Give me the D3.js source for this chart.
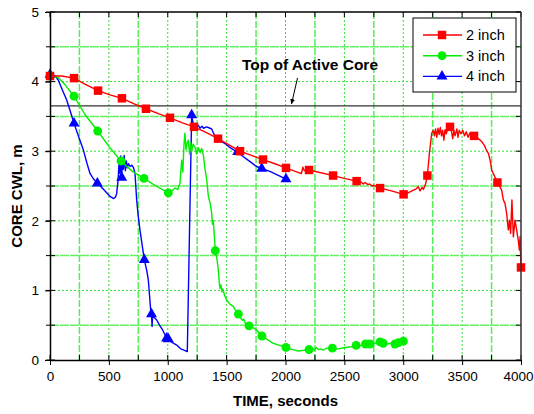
<!DOCTYPE html>
<html>
<head>
<meta charset="utf-8">
<script src="https://cdn.jsdelivr.net/npm/d3@7"></script>
<style>
  body { margin: 0; background: #fff; }
  svg { font-family: Arial, "Liberation Sans", sans-serif; }
</style>
</head>
<body>
<div id="chart"></div>
<script>
// 2 inch break (red)
const red2 = [[0,4.08],[100,4.08],[204,4.05],[300,3.96],[408,3.87],[510,3.81],[611,3.76],[715,3.68],[815,3.61],[920,3.54],[1019,3.48],[1120,3.41],[1223,3.35],[1325,3.27],[1427,3.18],[1520,3.09],[1614,3.00],[1710,2.94],[1809,2.88],[1910,2.82],[2004,2.76],[2100,2.70],[2135,2.68],[2148,2.77],[2160,2.72],[2200,2.73],[2300,2.69],[2404,2.65],[2500,2.61],[2604,2.57],[2640,2.56],[2660,2.53],[2675,2.55],[2700,2.52],[2715,2.53],[2735,2.50],[2750,2.51],[2803,2.47],[2900,2.43],[3003,2.38],[3040,2.40],[3086,2.44],[3110,2.46],[3128,2.49],[3143,2.43],[3160,2.48],[3171,2.45],[3188,2.52],[3205,2.65],[3222,2.97],[3242,3.26],[3256,3.30],[3265,3.22],[3275,3.32],[3285,3.20],[3295,3.33],[3305,3.24],[3315,3.34],[3325,3.22],[3335,3.30],[3345,3.16],[3355,3.31],[3365,3.25],[3380,3.33],[3397,3.35],[3410,3.28],[3420,3.18],[3430,3.30],[3440,3.22],[3455,3.32],[3465,3.20],[3475,3.30],[3490,3.25],[3505,3.30],[3520,3.22],[3535,3.28],[3550,3.20],[3565,3.26],[3580,3.22],[3601,3.22],[3625,3.20],[3645,3.17],[3666,3.14],[3690,3.08],[3705,3.02],[3723,2.97],[3740,2.85],[3751,2.73],[3770,2.66],[3800,2.55],[3836,2.44],[3850,2.30],[3864,2.25],[3878,2.11],[3892,1.87],[3901,2.01],[3912,1.82],[3923,2.30],[3935,1.77],[3949,2.01],[3963,1.87],[3977,1.72],[3986,1.58],[3992,1.77],[3997,1.48],[4000,1.33]];
const red2Marks = [[0,4.08],[204,4.05],[408,3.87],[611,3.76],[815,3.61],[1019,3.48],[1223,3.35],[1427,3.18],[1614,3.00],[1809,2.88],[2004,2.76],[2200,2.73],[2404,2.65],[2604,2.57],[2803,2.47],[3003,2.38],[3205,2.65],[3397,3.35],[3601,3.22],[3800,2.55],[4000,1.33]];

// 3 inch break (green)
const green3 = [[0,4.08],[70,4.06],[130,3.95],[204,3.79],[300,3.52],[405,3.29],[500,3.07],[603,2.86],[700,2.71],[798,2.61],[900,2.50],[1005,2.40],[1030,2.42],[1062,2.47],[1085,2.45],[1104,2.54],[1118,2.87],[1128,2.70],[1138,3.10],[1146,3.26],[1155,3.02],[1165,3.12],[1175,3.16],[1185,2.96],[1195,3.12],[1203,2.99],[1215,3.10],[1231,3.06],[1245,2.96],[1260,3.05],[1275,2.98],[1288,3.04],[1302,2.95],[1316,2.75],[1331,2.59],[1345,2.35],[1360,2.25],[1373,2.11],[1380,1.95],[1387,2.00],[1395,1.80],[1404,1.57],[1418,1.45],[1430,1.29],[1438,1.10],[1444,1.03],[1452,1.08],[1460,0.98],[1467,1.02],[1485,0.92],[1500,0.86],[1530,0.80],[1557,0.77],[1580,0.70],[1600,0.66],[1620,0.60],[1635,0.57],[1645,0.59],[1660,0.52],[1690,0.49],[1720,0.47],[1755,0.43],[1800,0.345],[1850,0.29],[1897,0.24],[1950,0.21],[2004,0.18],[2060,0.15],[2109,0.13],[2160,0.14],[2200,0.15],[2230,0.17],[2245,0.14],[2260,0.18],[2280,0.15],[2300,0.16],[2320,0.14],[2350,0.17],[2398,0.17],[2450,0.16],[2505,0.18],[2560,0.19],[2600,0.21],[2661,0.21],[2680,0.23],[2718,0.23],[2760,0.24],[2803,0.26],[2830,0.24],[2859,0.23],[2900,0.24],[2930,0.23],[2960,0.25],[3001,0.27]];
const green3Marks = [[0,4.08],[204,3.79],[405,3.29],[603,2.86],[798,2.61],[1005,2.40],[1404,1.57],[1600,0.66],[1690,0.49],[1800,0.345],[2004,0.18],[2200,0.15],[2398,0.17],[2600,0.21],[2680,0.23],[2718,0.23],[2803,0.26],[2830,0.24],[2930,0.23],[2960,0.25],[3001,0.27]];

// 4 inch break (blue)
const blue4 = [[0,4.10],[40,4.09],[71,4.02],[105,3.88],[141,3.74],[175,3.56],[204,3.40],[245,3.20],[283,3.02],[315,2.82],[340,2.68],[370,2.60],[402,2.54],[450,2.46],[510,2.35],[540,2.32],[556,2.34],[566,2.39],[578,2.58],[588,2.88],[594,2.68],[601,2.93],[609,2.62],[616,2.90],[623,2.74],[630,2.94],[640,2.72],[648,2.86],[656,2.76],[666,2.82],[680,2.78],[695,2.80],[710,2.76],[722,2.68],[736,2.30],[750,2.06],[764,1.87],[801,1.44],[821,1.29],[835,1.15],[855,0.72],[862,0.66],[867,0.48],[872,0.66],[878,0.62],[906,0.575],[930,0.50],[948,0.455],[960,0.42],[977,0.36],[990,0.31],[1005,0.30],[1040,0.25],[1076,0.215],[1110,0.16],[1132,0.145],[1166,0.12],[1203,3.52],[1215,3.40],[1231,3.35],[1260,3.37],[1274,3.33],[1290,3.36],[1302,3.33],[1331,3.35],[1359,3.33],[1373,3.32],[1401,3.21],[1440,3.16],[1486,3.11],[1530,3.05],[1560,3.02],[1594,2.99],[1642,2.92],[1699,2.85],[1755,2.78],[1798,2.75],[1868,2.71],[1930,2.66],[2004,2.60]];
const blue4Marks = [[0,4.10],[204,3.40],[402,2.54],[609,2.62],[801,1.44],[862,0.66],[990,0.31],[1005,0.30],[1203,3.52],[1594,2.99],[1798,2.75],[2004,2.60]];

const xTicks = [0,500,1000,1500,2000,2500,3000,3500,4000];
const yTicks = [0,1,2,3,4,5];
const activeCore = 3.65;
const legendNames = ["2 inch","3 inch","4 inch"];

const w = 534, h = 414;
const pLeft = 50, pRight = 521, pTop = 12, pBottom = 360;

const xScale = d3.scaleLinear().domain([0,4000]).range([pLeft,pRight]);
const yScale = d3.scaleLinear().domain([0,5]).range([pBottom,pTop]);

const svg = d3.select("#chart").append("svg")
  .attr("width", w)
  .attr("height", h);

// grid: half steps heavier dashes, whole steps dotted
const xMinor = d3.range(250,4000,500);
const xMajor = d3.range(500,4000,500);
const yMinor = d3.range(0.5,5,1);
const yMajor = d3.range(1,5,1);

const grid = svg.append("g");
grid.selectAll(".vmin").data(xMinor).enter().append("line")
  .attr("x1", d=>xScale(d)).attr("x2", d=>xScale(d))
  .attr("y1", pTop).attr("y2", pBottom)
  .attr("stroke","#55ee55").attr("stroke-width",1.5).attr("stroke-dasharray","7,2");
grid.selectAll(".vmaj").data(xMajor).enter().append("line")
  .attr("x1", d=>xScale(d)).attr("x2", d=>xScale(d))
  .attr("y1", pTop).attr("y2", pBottom)
  .attr("stroke","#33dd33").attr("stroke-width",1).attr("stroke-dasharray","2,2");
grid.selectAll(".hmin").data(yMinor).enter().append("line")
  .attr("y1", d=>yScale(d)).attr("y2", d=>yScale(d))
  .attr("x1", pLeft).attr("x2", pRight)
  .attr("stroke","#66ee66").attr("stroke-width",1.5).attr("stroke-dasharray","9,1");
grid.selectAll(".hmaj").data(yMajor).enter().append("line")
  .attr("y1", d=>yScale(d)).attr("y2", d=>yScale(d))
  .attr("x1", pLeft).attr("x2", pRight)
  .attr("stroke","#33dd33").attr("stroke-width",1).attr("stroke-dasharray","2,2");

// top of active core
svg.append("line")
  .attr("x1", pLeft).attr("x2", pRight)
  .attr("y1", yScale(activeCore)).attr("y2", yScale(activeCore))
  .attr("stroke","#333").attr("stroke-width",1.2);

svg.append("text")
  .attr("x", 310).attr("y", 70)
  .attr("text-anchor","middle")
  .style("font-size","15.5px").style("font-weight","bold")
  .text("Top of Active Core");

svg.append("defs").append("marker")
  .attr("id","arrow").attr("viewBox","0 0 10 10")
  .attr("refX",10).attr("refY",5)
  .attr("markerWidth",5).attr("markerHeight",5)
  .attr("orient","auto")
  .append("path").attr("d","M0,0L10,5L0,10z").attr("fill","#000");

svg.append("line")
  .attr("x1",297.5).attr("y1",78)
  .attr("x2",291.5).attr("y2",yScale(activeCore)-2)
  .attr("stroke","#000").attr("stroke-width",1)
  .attr("marker-end","url(#arrow)");

// series
const line = d3.line().x(d=>xScale(d[0])).y(d=>yScale(d[1]));

const tri = d3.symbol().type(d3.symbolTriangle).size(52);
const sq = d3.symbol().type(d3.symbolSquare).size(72);
const circ = d3.symbol().type(d3.symbolCircle).size(62);

const series = [
  {data: blue4, marks: blue4Marks, color: "#0000ff", sym: tri},
  {data: green3, marks: green3Marks, color: "#00ee00", sym: circ},
  {data: red2, marks: red2Marks, color: "#ff0000", sym: sq}
];

series.forEach(s => {
  svg.append("path")
    .datum(s.data)
    .attr("d", line)
    .attr("fill","none")
    .attr("stroke", s.color)
    .attr("stroke-width",1.4)
    .attr("stroke-linejoin","round");
  svg.selectAll(null)
    .data(s.marks)
    .enter()
    .append("path")
    .attr("d", s.sym)
    .attr("transform", d => "translate(" + xScale(d[0]) + "," + yScale(d[1]) + ")")
    .attr("fill", s.color);
});

// axes
const xAxis = d3.axisBottom(xScale).tickValues(xTicks).tickFormat(d3.format("d"))
  .tickSizeInner(5).tickSizeOuter(0).tickPadding(6);
const yAxis = d3.axisLeft(yScale).tickValues(yTicks).tickFormat(d3.format("d"))
  .tickSizeInner(5).tickSizeOuter(0).tickPadding(6);

const gx = svg.append("g")
  .attr("transform","translate(0," + pBottom + ")")
  .call(xAxis);
const gy = svg.append("g")
  .attr("transform","translate(" + pLeft + ",0)")
  .call(yAxis);

[gx, gy].forEach(g => {
  g.select(".domain").attr("stroke","#000").attr("stroke-width",1.5);
  g.selectAll(".tick line").attr("stroke","#000");
  g.selectAll(".tick text").style("font-size","13.5px").attr("fill","#000");
});
// keep the last label inside the window
gx.selectAll(".tick text").filter(d => d === 4000).attr("dx", -3);

// inner ticks on all four sides
const allX = d3.range(0,4001,250);
const allY = d3.range(0,5.01,0.5);
svg.append("g").selectAll("line").data(allX).enter().append("line")
  .attr("x1", d=>xScale(d)).attr("x2", d=>xScale(d))
  .attr("y1", pBottom).attr("y2", pBottom-5).attr("stroke","#000");
svg.append("g").selectAll("line").data(allX).enter().append("line")
  .attr("x1", d=>xScale(d)).attr("x2", d=>xScale(d))
  .attr("y1", pTop).attr("y2", pTop+5).attr("stroke","#000");
svg.append("g").selectAll("line").data(allY).enter().append("line")
  .attr("y1", d=>yScale(d)).attr("y2", d=>yScale(d))
  .attr("x1", pLeft-4).attr("x2", pLeft+5).attr("stroke","#000");
svg.append("g").selectAll("line").data(allY).enter().append("line")
  .attr("y1", d=>yScale(d)).attr("y2", d=>yScale(d))
  .attr("x1", pRight).attr("x2", pRight-5).attr("stroke","#000");

svg.append("line").attr("x1",pLeft).attr("x2",pRight).attr("y1",pTop).attr("y2",pTop)
  .attr("stroke","#000").attr("stroke-width",1.5);
svg.append("line").attr("x1",pRight).attr("x2",pRight).attr("y1",pTop).attr("y2",pBottom)
  .attr("stroke","#333").attr("stroke-width",1.5);

// axis titles
svg.append("text")
  .attr("x", (pLeft+pRight)/2).attr("y", 406)
  .attr("text-anchor","middle")
  .style("font-size","15px").style("font-weight","bold")
  .text("TIME, seconds");

svg.append("text")
  .attr("transform","translate(22,196) rotate(-90)")
  .attr("text-anchor","middle")
  .style("font-size","15px").style("font-weight","bold")
  .text("CORE CWL, m");

// legend
const legend = svg.append("g").attr("id","legend");
legend.append("rect")
  .attr("x",413).attr("y",18).attr("width",103).attr("height",74)
  .attr("fill","#fff").attr("stroke","#000").attr("stroke-width",1);

const legItems = legend.selectAll(".legend-item")
  .data([series[2], series[1], series[0]])
  .enter().append("g")
  .attr("transform",(d,i)=>"translate(0," + (35 + i*20.7) + ")");

legItems.append("line")
  .attr("x1",423).attr("x2",462)
  .attr("stroke",d=>d.color).attr("stroke-width",1.4);
legItems.append("path")
  .attr("d",d=>d.sym())
  .attr("transform","translate(442,0)")
  .attr("fill",d=>d.color);
legItems.append("text")
  .attr("x",466).attr("y",5)
  .style("font-size","14.5px")
  .text((d,i)=>legendNames[i]);
</script>
</body>
</html>
